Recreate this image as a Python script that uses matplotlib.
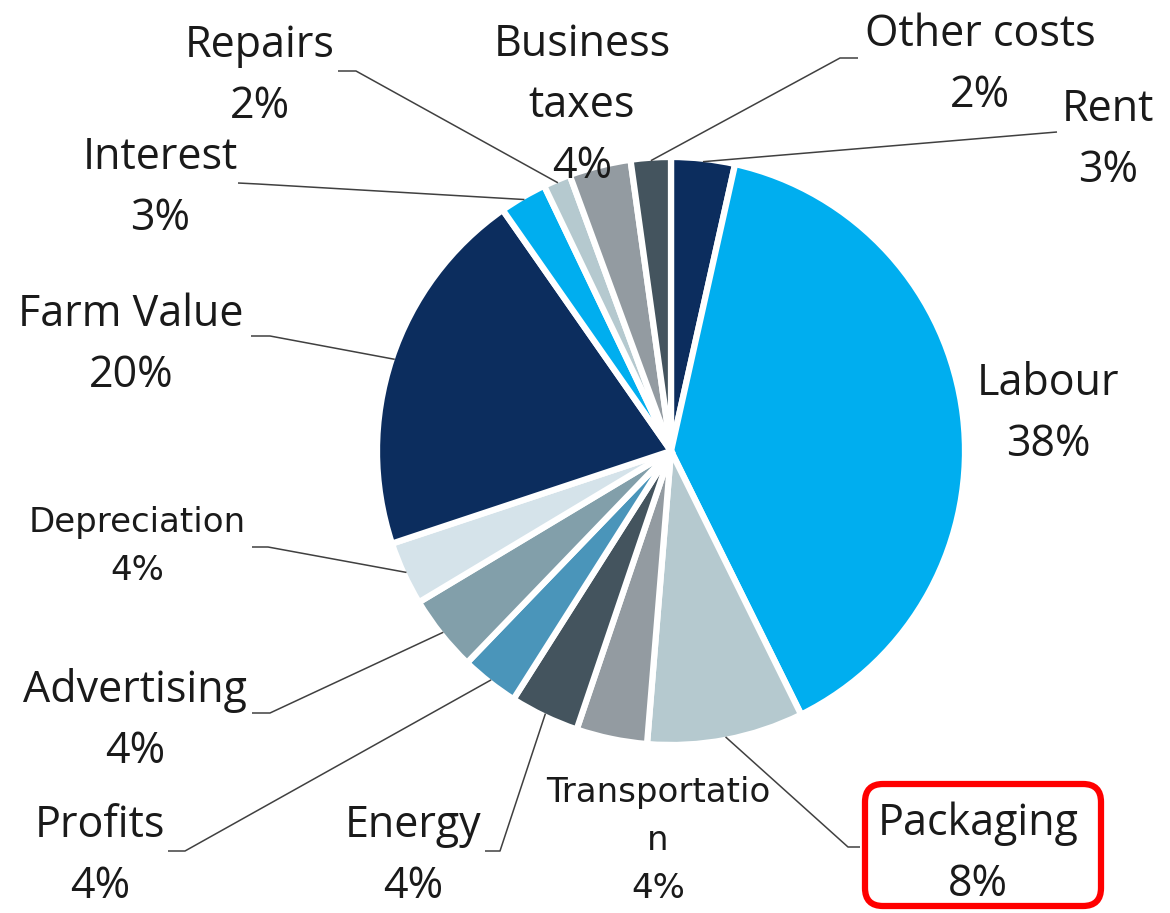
import numpy as np
import matplotlib
matplotlib.use("Agg")
import matplotlib.pyplot as plt
from matplotlib.patches import FancyBboxPatch

# ---- data ----
categories = ['Rent', 'Labour', 'Packaging', 'Transportation', 'Energy', 'Profits',
              'Advertising', 'Depreciation', 'Farm Value', 'Interest', 'Repairs',
              'Business taxes', 'Other costs']
shares = [3.5, 39.2, 8.6, 3.9, 3.8, 3.2, 4.2, 3.5, 20.4, 2.6, 1.5, 3.4, 2.2]
pct_labels = ['3%', '38%', '8%', '4%', '4%', '4%', '4%', '4%', '20%', '3%', '2%', '4%', '2%']
display_names = ['Rent', 'Labour', 'Packaging', 'Transportatio\nn', 'Energy', 'Profits',
                 'Advertising', 'Depreciation', 'Farm Value', 'Interest', 'Repairs',
                 'Business\ntaxes', 'Other costs']

palette = ['#0C2D5E', '#00AEEF', '#B5C9CF', '#939BA1', '#44545E', '#4A95BA',
           '#829FAA', '#D5E3EA']
colors = [palette[i % len(palette)] for i in range(len(shares))]

# ---- layout (pixel coordinates, y down) ----
W, H = 1170, 913
cx, cy, R = 671, 451, 294

# label: (center x, baseline of last line)
label_pos = {
    'Rent': (1108, 182),
    'Labour': (1048, 456),
    'Packaging': (978, 896),
    'Transportation': (658, 898),
    'Energy': (413, 898),
    'Profits': (100, 898),
    'Advertising': (135, 763),
    'Depreciation': (137, 580),
    'Farm Value': (131, 387),
    'Interest': (160, 230),
    'Repairs': (260, 118),
    'Business taxes': (582, 178),
    'Other costs': (980, 107),
}
small_font = {'Transportation', 'Depreciation'}

# leader lines: label-side points (the pie-side end is computed from the wedge)
leaders = {
    'Repairs': [(338, 71), (356, 71)],
    'Interest': [(238, 183), (258, 184)],
    'Farm Value': [(251, 336), (270, 336)],
    'Other costs': [(858, 58), (840, 58)],
    'Rent': [(1057, 132)],
    'Depreciation': [(252, 547), (268, 547)],
    'Advertising': [(252, 713), (270, 713)],
    'Profits': [(168, 851), (185, 851)],
    'Energy': [(485, 851), (500, 851)],
    'Packaging': [(860, 847), (848, 847)],
}

fig = plt.figure(figsize=(W / 100, H / 100), dpi=100)
ax = fig.add_axes([0, 0, 1, 1])
wedges, _ = ax.pie(shares, colors=colors, startangle=-90, counterclock=True,
                   center=(cx, cy), radius=R,
                   wedgeprops=dict(edgecolor='white', linewidth=4.5))
ax.set_xlim(0, W)
ax.set_ylim(H, 0)
ax.set_aspect('auto')
ax.axis('off')

text_color = '#1a1a1a'
for i, name in enumerate(categories):
    x, y = label_pos[name]
    lines = (display_names[i] + '\n' + pct_labels[i]).split('\n')
    if name in small_font:
        kw = dict(fontsize=24.5, family='DejaVu Sans')
        pitch = 48
    else:
        kw = dict(fontsize=31, family='Open Sans')
        pitch = 61
    n = len(lines)
    for j, line in enumerate(lines):
        ax.text(x, y - (n - 1 - j) * pitch, line, ha='center', va='baseline',
                color=text_color, zorder=5, **kw)

    if name in leaders:
        w = wedges[i]
        mid = np.deg2rad((w.theta1 + w.theta2) / 2)
        end = (cx + 0.99 * R * np.cos(mid), cy + 0.99 * R * np.sin(mid))
        pts = leaders[name] + [end]
        xs, ys = zip(*pts)
        ax.plot(xs, ys, color='#404040', lw=1.1, zorder=4, solid_capstyle='butt')

# red highlight box around the Packaging label
box = FancyBboxPatch((865, 784), 236, 122,
                     boxstyle='round,pad=0,rounding_size=18',
                     facecolor='none', edgecolor='#FF0000', linewidth=4.5, zorder=6)
ax.add_patch(box)

fig.savefig('out.png', dpi=100)
